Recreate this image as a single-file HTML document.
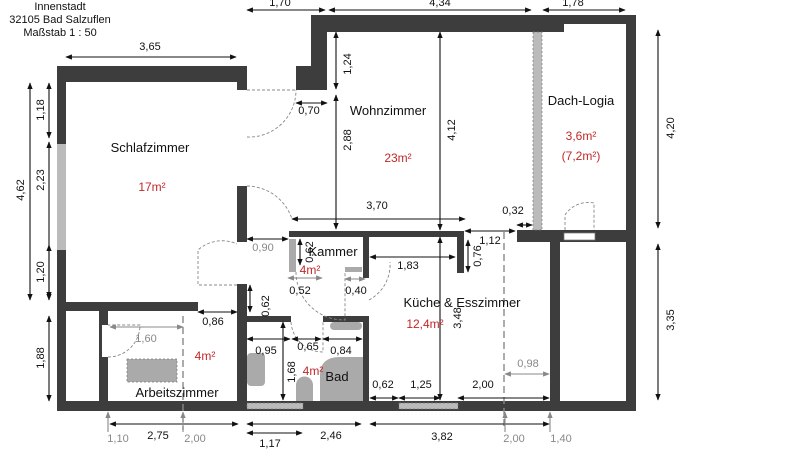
<!DOCTYPE html>
<html><head><meta charset="utf-8"><style>
html,body{margin:0;padding:0;background:#fff;}
svg{display:block;}
text{font-family:"Liberation Sans",sans-serif;font-size:11px;fill:#111;}
.g{fill:#888;}
.r{fill:#c0282a;font-size:12px;}
.l{font-size:13px;}
</style></head><body>
<svg width="800" height="450" viewBox="0 0 800 450" xmlns="http://www.w3.org/2000/svg">
<defs>
<marker id="a" viewBox="0 0 10 10" refX="9" refY="5" markerWidth="6" markerHeight="6" orient="auto-start-reverse"><path d="M0,1 L10,5 L0,9 z" fill="#111"/></marker>
<marker id="ag" viewBox="0 0 10 10" refX="9" refY="5" markerWidth="6" markerHeight="6" orient="auto-start-reverse"><path d="M0,1 L10,5 L0,9 z" fill="#888"/></marker>
</defs>
<g fill="#3d3d3d">
<!-- Schlafzimmer -->
<rect x="57" y="66" width="190" height="16"/>
<rect x="57" y="66" width="9" height="345"/>
<rect x="237" y="66" width="10" height="24"/>
<rect x="237" y="186" width="10" height="56"/>
<rect x="237" y="284" width="10" height="127"/>
<rect x="66" y="302" width="132" height="9"/>
<rect x="99" y="311" width="9" height="90"/>
<!-- bottom -->
<rect x="57" y="401" width="579" height="10"/>
<!-- Wohnzimmer -->
<rect x="311" y="15" width="253" height="17"/>
<rect x="311" y="15" width="325" height="9"/>
<rect x="311" y="15" width="16" height="75"/>
<rect x="296" y="66" width="31" height="24"/>
<rect x="626" y="15" width="10" height="396"/>
<rect x="517" y="230" width="119" height="12"/>
<rect x="550" y="242" width="10" height="159"/>
<!-- Kammer / Kueche -->
<rect x="289" y="231" width="175" height="6"/>
<rect x="363" y="231" width="6" height="47"/>
<rect x="457" y="231" width="7" height="42"/>
<!-- Bad -->
<rect x="247" y="316" width="44" height="6"/>
<rect x="323" y="316" width="46" height="6"/>
<rect x="363" y="316" width="6" height="95"/>
</g>
<!-- windows -->
<rect x="57" y="144" width="9" height="106" fill="#bbb"/>
<rect x="102" y="325" width="6" height="32" fill="#fff"/>
<rect x="533" y="32" width="9" height="198" fill="#bbb" stroke="#777" stroke-width="0.7" stroke-dasharray="2,2"/>
<rect x="564" y="233" width="31" height="7" fill="#fff" stroke="#777" stroke-width="0.7"/>
<rect x="247" y="403" width="56" height="6" fill="#bbb" stroke="#777" stroke-width="0.7" stroke-dasharray="2,2"/>
<rect x="399" y="403" width="59" height="6" fill="#bbb" stroke="#777" stroke-width="0.7" stroke-dasharray="2,2"/>
<!-- fixtures -->
<g fill="#aaa">
<rect x="289" y="239" width="7" height="33"/>
<rect x="345" y="267" width="17" height="5"/>
<rect x="127" y="359" width="50" height="23" stroke="#777" stroke-dasharray="2,2" stroke-width="0.7"/>
<rect x="247" y="353" width="18" height="33" rx="4"/>
<path d="M296,401 V385 a8.5,8.5 0 0 1 17,0 V401 z"/>
<path d="M320,401 V375 q0,-18 20,-18 H363 V401 z"/>
<rect x="330" y="322" width="32" height="8" rx="4"/>
</g>
<!-- door arcs -->
<g fill="none" stroke="#888" stroke-width="0.9" stroke-dasharray="3,2">
<path d="M247,90 H296 M247,137 A47,47 0 0 0 296,90"/>
<path d="M247,186 A48,48 0 0 1 292,219"/>
<path d="M237,285 H198 V250 A36,36 0 0 1 237,244"/>
<path d="M296,272 A48,48 0 0 0 345,320 V272"/>
<path d="M108,357 A32,32 0 0 0 140,325 H108"/>
<path d="M291,322 A32,32 0 0 0 323,352 V322"/>
<path d="M369,300 A40,40 0 0 0 390,262"/>
<path d="M565,230 V215 A28,28 0 0 1 594,203 V230"/>
<path d="M183,316 V430 M504,232 V430" stroke-dasharray="7,4" stroke-width="1.4"/>
</g>
<!-- dimension lines -->
<g stroke="#111" stroke-width="1.1" marker-start="url(#a)" marker-end="url(#a)">
<line x1="66" y1="57" x2="236" y2="57"/>
<line x1="247" y1="10" x2="325" y2="10"/>
<line x1="329" y1="10" x2="531" y2="10"/>
<line x1="543" y1="10" x2="625" y2="10"/>
<line x1="30" y1="83" x2="30" y2="300"/>
<line x1="49" y1="83" x2="49" y2="138"/>
<line x1="49" y1="142" x2="49" y2="298"/>
<line x1="49" y1="245" x2="49" y2="300"/>
<line x1="49" y1="316" x2="49" y2="401"/>
<line x1="336" y1="32" x2="336" y2="89"/>
<line x1="336" y1="95" x2="336" y2="229"/>
<line x1="296" y1="103" x2="327" y2="103"/>
<line x1="440" y1="32" x2="440" y2="230"/>
<line x1="292" y1="219" x2="465" y2="219"/>
<line x1="517" y1="225" x2="532" y2="225"/>
<line x1="658" y1="30" x2="658" y2="228"/>
<line x1="658" y1="244" x2="658" y2="400"/>
<line x1="247" y1="239" x2="288" y2="239"/>
<line x1="300" y1="239" x2="300" y2="265"/>
<line x1="370" y1="257" x2="455" y2="257"/>
<line x1="465" y1="231" x2="515" y2="231"/>
<line x1="468" y1="240" x2="468" y2="272"/>
<line x1="440" y1="237" x2="440" y2="400"/>
<line x1="370" y1="398" x2="398" y2="398"/>
<line x1="399" y1="398" x2="440" y2="398"/>
<line x1="458" y1="398" x2="549" y2="398"/>
<line x1="198" y1="312" x2="237" y2="312"/>
<line x1="250" y1="285" x2="250" y2="312"/>
<line x1="247" y1="339" x2="290" y2="339"/>
<line x1="292" y1="339" x2="321" y2="339"/>
<line x1="323" y1="339" x2="362" y2="339"/>
<line x1="283" y1="322" x2="283" y2="400"/>
<line x1="110" y1="424" x2="238" y2="424"/>
<line x1="247" y1="424" x2="361" y2="424"/>
<line x1="247" y1="433" x2="302" y2="433"/>
<line x1="370" y1="424" x2="549" y2="424"/>
</g>
<g stroke="#888" stroke-width="1.1" marker-start="url(#ag)" marker-end="url(#ag)">
<line x1="288" y1="278" x2="322" y2="278"/>
<line x1="345" y1="279" x2="365" y2="279"/>
<line x1="505" y1="374" x2="549" y2="374"/>
<line x1="110" y1="327" x2="183" y2="327"/>
</g>
<g stroke="#888" stroke-width="1.1" marker-end="url(#ag)">
<line x1="108" y1="432" x2="108" y2="412"/>
<line x1="183" y1="432" x2="183" y2="412"/>
<line x1="505" y1="432" x2="505" y2="412"/>
<line x1="550" y1="432" x2="550" y2="412"/>
</g>
<!-- texts -->
<g text-anchor="middle">
<text x="60" y="10" font-size="10">Innenstadt</text>
<text x="60" y="23" font-size="10">32105 Bad Salzuflen</text>
<text x="60" y="36" font-size="10">Maßstab 1 : 50</text>
<text x="150" y="50">3,65</text>
<text x="280" y="6">1,70</text>
<text x="440" y="6">4,34</text>
<text x="573" y="6">1,78</text>
<text x="309" y="114">0,70</text>
<text x="377" y="209">3,70</text>
<text x="513" y="214">0,32</text>
<text x="263" y="251" class="g">0,90</text>
<text x="300" y="294">0,52</text>
<text x="356" y="294">0,40</text>
<text x="408" y="269">1,83</text>
<text x="490" y="244">1,12</text>
<text x="383" y="388">0,62</text>
<text x="421" y="388">1,25</text>
<text x="483" y="388">2,00</text>
<text x="528" y="367" class="g" font-size="13">0,98</text>
<text x="213" y="325">0,86</text>
<text x="146" y="342" class="g" font-size="13">1,60</text>
<text x="266" y="354">0,95</text>
<text x="308" y="350">0,65</text>
<text x="341" y="354">0,84</text>
<text x="118" y="442" class="g" font-size="13">1,10</text>
<text x="158" y="439">2,75</text>
<text x="195" y="442" class="g" font-size="13">2,00</text>
<text x="270" y="447">1,17</text>
<text x="331" y="439">2,46</text>
<text x="442" y="440">3,82</text>
<text x="514" y="442" class="g" font-size="13">2,00</text>
<text x="561" y="442" class="g" font-size="13">1,40</text>
<text x="150" y="152" class="l">Schlafzimmer</text>
<text x="152" y="191" class="r">17m²</text>
<text x="388" y="115" class="l">Wohnzimmer</text>
<text x="398" y="162" class="r">23m²</text>
<text x="581" y="105" class="l">Dach-Logia</text>
<text x="581" y="140" class="r">3,6m²</text>
<text x="581" y="160" class="r">(7,2m²)</text>
<text x="333" y="256" class="l">Kammer</text>
<text x="310" y="274" class="r">4m²</text>
<text x="462" y="307" class="l">Küche &amp; Esszimmer</text>
<text x="425" y="328" class="r">12,4m²</text>
<text x="205" y="360" class="r">4m²</text>
<text x="177" y="397" class="l">Arbeitszimmer</text>
<text x="313" y="375" class="r">4m²</text>
<text x="337" y="381" class="l">Bad</text>
</g>
<g text-anchor="middle">
<text transform="translate(24,190) rotate(-90)">4,62</text>
<text transform="translate(44,110) rotate(-90)">1,18</text>
<text transform="translate(44,180) rotate(-90)">2,23</text>
<text transform="translate(44,272) rotate(-90)">1,20</text>
<text transform="translate(44,358) rotate(-90)">1,88</text>
<text transform="translate(351,64) rotate(-90)">1,24</text>
<text transform="translate(351,140) rotate(-90)">2,88</text>
<text transform="translate(455,130) rotate(-90)">4,12</text>
<text transform="translate(674,128) rotate(-90)">4,20</text>
<text transform="translate(674,320) rotate(-90)">3,35</text>
<text transform="translate(313,252) rotate(-90)">0,62</text>
<text transform="translate(481,256) rotate(-90)">0,76</text>
<text transform="translate(461,318) rotate(-90)">3,48</text>
<text transform="translate(269,306) rotate(-90)">0,62</text>
<text transform="translate(295,372) rotate(-90)">1,68</text>
</g>
</svg>
</body></html>
